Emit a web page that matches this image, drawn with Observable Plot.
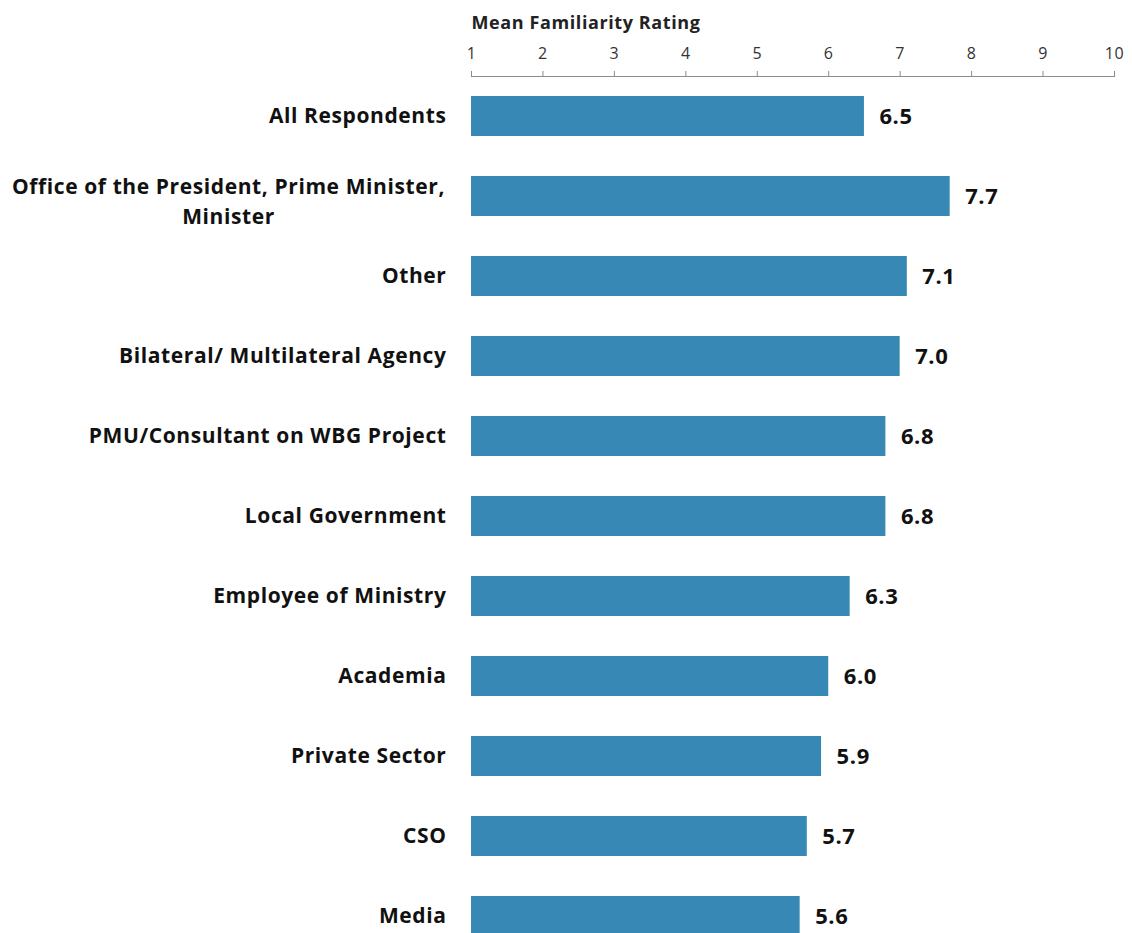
<!DOCTYPE html>
<html>
<head>
<meta charset="utf-8">
<script src="https://cdn.jsdelivr.net/npm/d3@7"></script>
<script src="https://cdn.jsdelivr.net/npm/@observablehq/plot@0.6"></script>
<style>
  html, body { margin: 0; padding: 0; background: #fff; overflow: hidden; }
  #chart svg { display: block; overflow: hidden; letter-spacing: 0.6px; }
</style>
</head>
<body>
<div id="chart"></div>
<script>
const categories = [
  "All Respondents",
  "Office of the President, Prime Minister,\nMinister",
  "Other",
  "Bilateral/ Multilateral Agency",
  "PMU/Consultant on WBG Project",
  "Local Government",
  "Employee of Ministry",
  "Academia",
  "Private Sector",
  "CSO",
  "Media"
];
const values = [6.5, 7.7, 7.1, 7.0, 6.8, 6.8, 6.3, 6.0, 5.9, 5.7, 5.6];
const xTicks = [1, 2, 3, 4, 5, 6, 7, 8, 9, 10];
const axisTitle = "Mean Familiarity Rating";

const data = categories.map((c, i) => ({category: c, value: values[i]}));
const font = "'Open Sans', Lato, sans-serif";

const chart = Plot.plot({
  width: 1132,
  height: 933,
  marginLeft: 471,
  marginRight: 18,
  marginTop: 76,
  marginBottom: 0,
  style: {fontFamily: font, background: "#fff", overflow: "hidden"},
  x: {domain: [1, 10], axis: null},
  y: {domain: categories, range: [56, 976], padding: 0.5, axis: null},
  marks: [
    Plot.barX(data, {x1: 1, x2: "value", y: "category", fill: "#3788b4"}),
    Plot.frame({anchor: "top", stroke: "#8c8c8c", strokeWidth: 1.2}),
    Plot.axisX({
      anchor: "top", ticks: xTicks, tickSize: 6, tickPadding: 12,
      stroke: "#8c8c8c", fill: "#333", fontSize: 16, label: null,
      tickFormat: d => String(d)
    }),
    Plot.text([axisTitle], {
      frameAnchor: "top-left", dy: -60, textAnchor: "start",
      fontSize: 18, fontWeight: "bold", fill: "#222"
    }),
    Plot.text(data, {
      x: "value", y: "category", text: d => d.value.toFixed(1),
      dx: 15, textAnchor: "start", fontSize: 22, fontWeight: "bold", fill: "#111"
    }),
    Plot.text(data.filter(d => !d.category.includes("\n")), {
      y: "category", text: "category", frameAnchor: "left", dx: -25,
      textAnchor: "end", fontSize: 21, fontWeight: "bold", fill: "#111"
    }),
    Plot.text(data.filter(d => d.category.includes("\n")), {
      y: "category", text: "category", frameAnchor: "left", dx: -243, dy: 3,
      textAnchor: "middle", lineHeight: 1.4, fontSize: 21, fontWeight: "bold", fill: "#111"
    })
  ]
});
document.getElementById("chart").appendChild(chart);
</script>
</body>
</html>
